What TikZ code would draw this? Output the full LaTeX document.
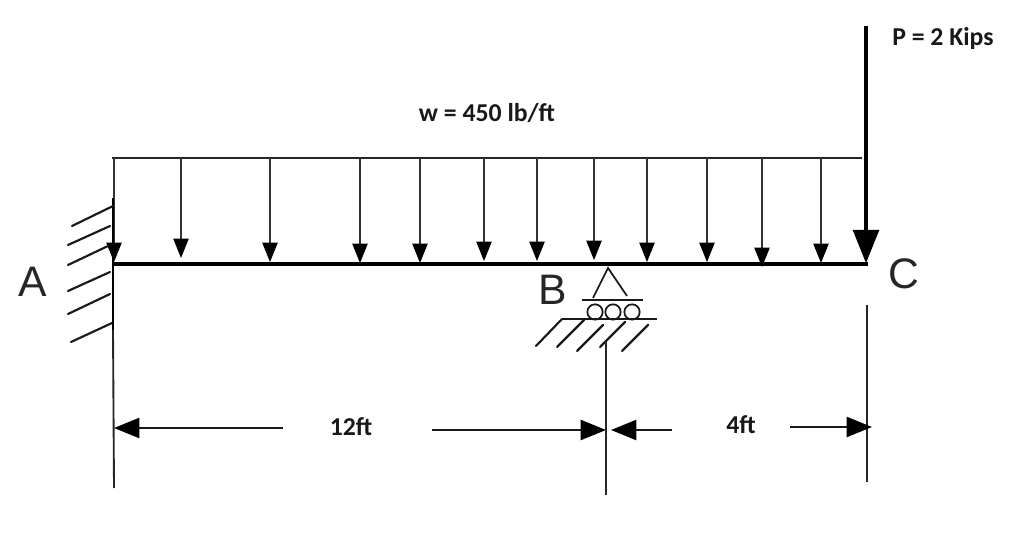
\documentclass[tikz,border=0pt]{standalone}
\usepackage{fontspec}
\setmainfont{Carlito}
\newfontfamily\letterfont{Liberation Sans}
\usetikzlibrary{arrows.meta}
\tikzset{
  px/.style={x=0.75pt,y=-0.75pt},
  loadarrow/.style={draw=black!80,line width=0.9pt,-{Triangle[length=14.5pt,width=11.5pt,color=black]}},
  bigarrow/.style={draw=black,line width=3.4pt,-{Triangle[length=25pt,width=19pt]},shorten >=-1pt},
  dimarrow/.style={draw=black!90,line width=1.7pt,-{Triangle[length=19pt,width=15pt,color=black]}},
  beamline/.style={draw=black,line width=3pt},
  loadline/.style={draw=black!85,line width=1.5pt},
  extline/.style={draw=black!85,line width=1.4pt},
  hatchline/.style={draw=black!90,line width=1.6pt,line cap=round},
  lbl/.style={font=\bfseries\fontsize{19.3}{22}\selectfont,text=black!90,inner sep=0pt},
  letter/.style={font=\letterfont\fontsize{32}{36}\selectfont,text=black!85,inner sep=0pt},
  roller/.style={circle,draw=black!90,line width=1.3pt,minimum size=11.5pt,inner sep=0pt}
}
\begin{document}
\begin{tikzpicture}[px]
\useasboundingbox (0,0) rectangle (1017,541);
% beam and load line
\coordinate (beamL) at (114,264);
\coordinate (beamR) at (868,264);
\coordinate (loadL) at (112,158);
\coordinate (loadR) at (862,158);
\draw[loadline] (loadL) -- (loadR);
% distributed load arrows
\foreach \n/\xx/\tip in {a/114/262,b/181/258,c/270/262,d/360/263,e/420/263,f/484/261,g/537/261,h/594/260,i/647/262,j/707/262,k/762/267,l/821/263}{
  \coordinate (top\n) at (\xx,158);
  \coordinate (tip\n) at (\xx,\tip);
  \draw[loadarrow] (top\n) -- (tip\n);
}
\draw[beamline] (beamL) -- (beamR);
% point load
\coordinate (Ptop) at (866,26);
\coordinate (Ptip) at (866,262);
\draw[bigarrow] (Ptop) -- (Ptip);
% wall at A
\coordinate (wallT) at (113,198);
\coordinate (wallB) at (113,330);
\coordinate (extAb) at (114,488);
\draw[draw=black,line width=2pt] (wallT) -- (wallB);
\draw[extline] (wallB) -- (extAb);
\foreach \i/\xa/\ya/\xb/\yb in {1/72/226/113/206,2/68/245/110/226,3/68/265/108/246,4/68/291/110/272,5/68/314/110/294,6/71/342/112/323}{
  \coordinate (wa\i) at (\xa,\ya);
  \coordinate (wb\i) at (\xb,\yb);
  \draw[hatchline] (wa\i) -- (wb\i);
}
% support B
\coordinate (apex) at (608,268);
\coordinate (triL) at (593,298);
\coordinate (triR) at (627,296);
\draw[draw=black!90,line width=1.3pt] (triL) -- (apex) -- (triR);
\coordinate (plateL) at (582,300);
\coordinate (plateR) at (643,300);
\draw[draw=black!90,line width=1.5pt] (plateL) -- (plateR);
\node[roller] (r1) at (595,312) {};
\node[roller] (r2) at (613,312) {};
\node[roller] (r3) at (632,312) {};
\coordinate (gndL) at (562,319);
\coordinate (gndR) at (657,319);
\draw[draw=black!90,line width=1.3pt] (gndL) -- (gndR);
\foreach \i/\xa/\ya/\xb/\yb in {1/536/346/562/319,2/557/347/584/320,3/577/351/603/325,4/600/347/625/322,5/622/351/648/325}{
  \coordinate (ga\i) at (\xa,\ya);
  \coordinate (gb\i) at (\xb,\yb);
  \draw[hatchline] (ga\i) -- (gb\i);
}
% extension lines
\coordinate (extBt) at (606,340);
\coordinate (extBb) at (606,495);
\coordinate (extCt) at (867,305);
\coordinate (extCb) at (867,482);
\draw[extline] (extBt) -- (extBb);
\draw[extline] (extCt) -- (extCb);
% dimension arrows
\coordinate (d1s) at (283,428); \coordinate (d1e) at (114,428);
\coordinate (d2s) at (432,430); \coordinate (d2e) at (606,430);
\coordinate (d3s) at (672,430); \coordinate (d3e) at (611,430);
\coordinate (d4s) at (790,427); \coordinate (d4e) at (872,427);
\draw[dimarrow] (d1s) -- (d1e);
\draw[dimarrow] (d2s) -- (d2e);
\draw[dimarrow] (d3s) -- (d3e);
\draw[dimarrow] (d4s) -- (d4e);
% labels
\node[lbl] (Plabel) at (943,38) {P = 2 Kips};
\node[lbl] (wlabel) at (487,113) {w = 450 lb/ft};
\node[lbl] (len12) at (351,427) {12ft};
\node[lbl] (len4) at (741,425) {4ft};
\node[letter] (A) at (33,282) {A};
\node[letter] (B) at (553,290) {B};
\node[letter] (C) at (904,274) {C};
\end{tikzpicture}
\end{document}
